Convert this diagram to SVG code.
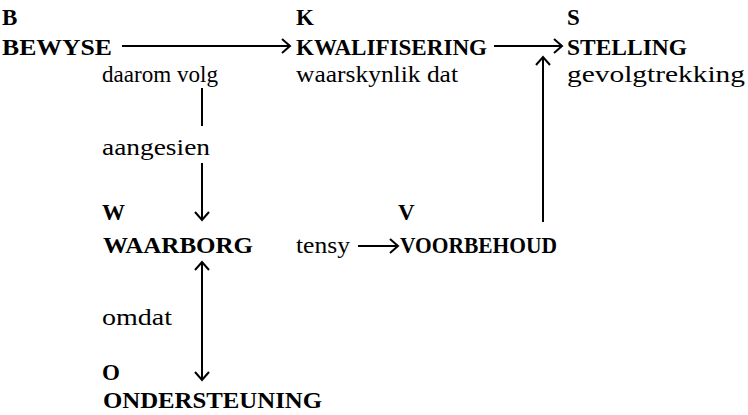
<svg xmlns="http://www.w3.org/2000/svg" width="748" height="415" viewBox="0 0 748 415">
<defs>
<style>
.b{font-family:"Liberation Serif","Times New Roman",serif;font-weight:bold;font-size:23px;fill:#000}
.r{font-family:"Liberation Serif","Times New Roman",serif;font-size:24px;fill:#000}
.c{stroke:#000;stroke-width:2;fill:none}
</style>
<marker id="ah" viewBox="-10 -8 12 16" markerWidth="12" markerHeight="16" refX="0" refY="0" orient="auto-start-reverse" markerUnits="userSpaceOnUse">
<path d="M-8,-7 L0,0 L-8,7" fill="none" stroke="#000" stroke-width="2"/>
</marker>
</defs>
<rect width="748" height="415" fill="#fff"/>
<g id="connectors">
<line class="c" x1="122" y1="46" x2="290" y2="46" marker-end="url(#ah)"/>
<line class="c" x1="494" y1="46" x2="562" y2="46" marker-end="url(#ah)"/>
<line class="c" x1="202" y1="88" x2="202" y2="126"/>
<line class="c" x1="202" y1="163" x2="202" y2="220" marker-end="url(#ah)"/>
<line class="c" x1="202" y1="262" x2="202" y2="380" marker-start="url(#ah)" marker-end="url(#ah)"/>
<line class="c" x1="358" y1="246" x2="398" y2="246" marker-end="url(#ah)"/>
<line class="c" x1="543" y1="222" x2="543" y2="57" marker-end="url(#ah)"/>
</g>
<g id="node-B">
<text class="b" x="2" y="25">B</text>
<text class="b" x="2" y="55" textLength="110" lengthAdjust="spacingAndGlyphs">BEWYSE</text>
<text class="r" x="102" y="82" textLength="116" lengthAdjust="spacingAndGlyphs">daarom volg</text>
</g>
<g id="node-K">
<text class="b" x="296" y="25">K</text>
<text class="b" x="296" y="55" textLength="191" lengthAdjust="spacingAndGlyphs">KWALIFISERING</text>
<text class="r" x="296" y="82" textLength="162" lengthAdjust="spacingAndGlyphs">waarskynlik dat</text>
</g>
<g id="node-S">
<text class="b" x="567" y="25">S</text>
<text class="b" x="567" y="55" textLength="120" lengthAdjust="spacingAndGlyphs">STELLING</text>
<text class="r" x="567" y="82" textLength="178" lengthAdjust="spacingAndGlyphs">gevolgtrekking</text>
</g>
<g id="node-W">
<text class="r" x="102" y="155" textLength="108" lengthAdjust="spacingAndGlyphs">aangesien</text>
<text class="b" x="102" y="220">W</text>
<text class="b" x="103" y="253" textLength="150" lengthAdjust="spacingAndGlyphs">WAARBORG</text>
</g>
<g id="node-V">
<text class="r" x="296" y="253" textLength="54" lengthAdjust="spacingAndGlyphs">tensy</text>
<text class="b" x="398" y="220">V</text>
<text class="b" x="400" y="253" textLength="157" lengthAdjust="spacingAndGlyphs">VOORBEHOUD</text>
</g>
<g id="node-O">
<text class="r" x="102" y="325" textLength="70" lengthAdjust="spacingAndGlyphs">omdat</text>
<text class="b" x="102" y="380">O</text>
<text class="b" x="103" y="408" textLength="219" lengthAdjust="spacingAndGlyphs">ONDERSTEUNING</text>
</g>
</svg>
